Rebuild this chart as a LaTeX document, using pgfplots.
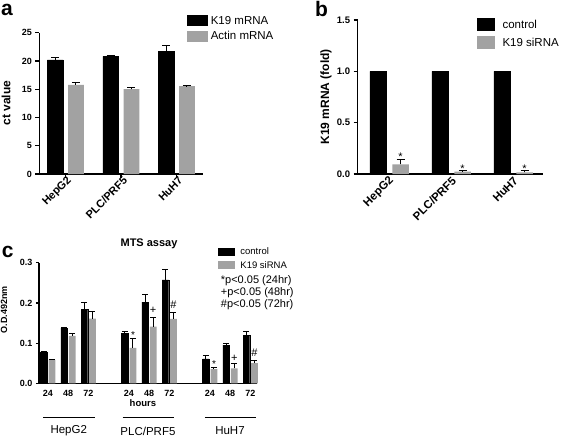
\documentclass[border=0pt]{standalone}
\usepackage{pgfplots}
\pgfplotsset{compat=1.18}
\usepackage{pgfplotstable}
\usepackage{fontspec}
\setmainfont{Liberation Sans}
\definecolor{bargray}{RGB}{162,162,162}
\newcommand{\fs}[1]{\fontsize{#1}{#1}\selectfont}

\pgfplotstableread{
x k19 k19e act acte
0 20.2 0.35 15.75 0.45
1 20.8 0.12 15.0 0.35
2 21.65 1.05 15.55 0.1
}\dataA

\pgfplotstableread{
x ctl sir sire
0 1.0 0.094 0.052
1 1.0 0.023 0.008
2 1.0 0.016 0.02
}\dataB

\pgfplotstableread{
x y
0.182 0.195
1.182 0.078
2.182 0.078
}\starB

\pgfplotstableread{
x ctl ctle sir sire
0 0.078 0.002 0.058 0.002
1 0.137 0.002 0.118 0.005
2 0.184 0.017 0.161 0.018
4 0.124 0.005 0.088 0.024
5 0.202 0.020 0.141 0.023
6 0.257 0.025 0.160 0.016
8 0.061 0.008 0.035 0.004
9 0.095 0.005 0.037 0.013
10 0.119 0.009 0.050 0.006
}\dataC

\pgfplotstableread{
x y
4.2 0.126
8.2 0.054
}\starC
\pgfplotstableread{
x y
5.2 0.181
9.2 0.062
}\plusC
\pgfplotstableread{
x y
6.2 0.195
10.2 0.076
}\hashC

\pgfplotsset{
  prism/.style={
    axis x line*=bottom, axis y line*=left,
    axis line style={line width=1.5pt},
    tick style={line width=1.2pt, black},
    tick align=outside,
    major tick length=4pt,
    /pgf/number format/assume math mode=true,
    ticklabel style={font=\bfseries\fs{9}},
    clip=false,
    anchor=south west,
    legend cell align=left,
  },
  errstyle/.style={
    error bars/y dir=plus, error bars/y explicit,
    error bars/error bar style={line width=1pt, black},
    error bars/error mark options={rotate=90, line width=1pt, mark size=#1, black}},
  blackbar/.style={ybar, bar shift=0pt, fill=black, draw=black, forget plot},
  graybar/.style={ybar, bar shift=0pt, fill=bargray, draw=none, forget plot},
}

\begin{document}
\begin{tikzpicture}
\useasboundingbox (0,0) rectangle (567pt,437pt);

% ---------------- panel a
\begin{axis}[prism,
  at={(39.5pt,263pt)}, x=55.5pt, y=5.652pt,
  xmin=-0.47, xmax=2.47, ymin=0, ymax=25,
  ytick={0,5,10,15,20,25},
  xtick={0,1,2}, xticklabels={HepG2,PLC/PRF5,HuH7},
  xticklabel style={rotate=45, anchor=east, font=\bfseries\fs{11}, inner sep=1pt, xshift=3.5pt, yshift=-3.5pt},
  ylabel={ct value},
  ylabel style={font=\bfseries\fs{12}, at={(axis description cs:-0.205,0.502)}, anchor=center},
  legend style={at={(axis description cs:0.904,1.125)}, anchor=north west,
    draw=none, fill=none, inner sep=0pt, row sep=5pt, column sep=3.2pt,
    font=\fs{11.5}, nodes={inner sep=0pt, text height=8.2pt, text depth=0pt}},
]
\addplot[blackbar, bar width=0.283, errstyle=4pt] table[x expr=\thisrow{x}-0.187, y=k19, y error=k19e] {\dataA};
\addplot[graybar, bar width=0.283, errstyle=4pt] table[x expr=\thisrow{x}+0.187, y=act, y error=acte] {\dataA};
\addlegendimage{legend image code/.code={\fill[black] (0pt,-5pt) rectangle (20pt,5pt);}}
\addlegendentry{K19 mRNA}
\addlegendimage{legend image code/.code={\fill[bargray] (0pt,-5pt) rectangle (20pt,5pt);}}
\addlegendentry{Actin mRNA}
\end{axis}

% ---------------- panel b
\begin{axis}[prism,
  at={(357.7pt,263pt)}, x=62pt, y=102.67pt,
  xmin=-0.51, xmax=2.48, ymin=0, ymax=1.5,
  ytick={0,0.5,1,1.5},
  yticklabel style={/pgf/number format/.cd, fixed, fixed zerofill, precision=1},
  ticklabel style={font=\bfseries\fs{9.5}},
  xtick={0,1,2}, xticklabels={HepG2,PLC/PRF5,HuH7},
  major x tick style={draw=none},
  xticklabel style={rotate=45, anchor=east, font=\bfseries\fs{11.5}, inner sep=1pt, xshift=2.5pt, yshift=-2.5pt},
  ylabel={K19 mRNA (fold)},
  ylabel style={font=\bfseries\fs{12}, at={(axis description cs:-0.171,0.502)}, anchor=center},
  legend style={at={(axis description cs:0.642,1.013)}, anchor=north west,
    draw=none, fill=none, inner sep=0pt, row sep=5.7pt, column sep=8.5pt,
    font=\fs{11.5}, nodes={inner sep=0pt, text height=8.2pt, text depth=0pt}},
]
\addplot[blackbar, bar width=0.266] table[x expr=\thisrow{x}-0.182, y=ctl] {\dataB};
\addplot[graybar, bar width=0.266, errstyle=4pt] table[x expr=\thisrow{x}+0.182, y=sir, y error=sire] {\dataB};
\addplot[only marks, mark=none, forget plot, nodes near coords={*},
  nodes near coords style={anchor=center, inner sep=0pt, yshift=-2.4pt, font=\fs{11}}]
  table[x=x, y=y] {\starB};
\addlegendimage{legend image code/.code={\fill[black] (0pt,-6pt) rectangle (16.7pt,6pt);}}
\addlegendentry{control}
\addlegendimage{legend image code/.code={\fill[bargray] (0pt,-6pt) rectangle (16.7pt,6pt);}}
\addlegendentry{K19 siRNA}
\end{axis}

% ---------------- panel c
\begin{axis}[prism,
  at={(39pt,53.7pt)}, x=20.25pt, y=402pt,
  xmin=-0.44, xmax=10.32, ymin=0, ymax=0.3,
  ytick={0,0.1,0.2,0.3},
  yticklabel style={/pgf/number format/.cd, fixed, fixed zerofill, precision=1},
  xtick={0,1,2,4,5,6,8,9,10}, xticklabels={24,48,72,24,48,72,24,48,72},
  major x tick style={draw=none},
  xticklabel style={font=\bfseries\fs{9}},
  major tick length=3pt,
  ylabel={O.D.492nm},
  ylabel style={font=\bfseries\fs{9}, at={(axis description cs:-0.161,0.608)}, anchor=center},
  xlabel={hours},
  xlabel style={font=\bfseries\fs{9.5}, at={(axis description cs:0.477,-0.165)}, anchor=center},
  title={MTS assay},
  title style={font=\bfseries\fs{11}, at={(axis description cs:0.505,1.155)}, anchor=center, yshift=-6pt},
  legend style={at={(axis description cs:0.8225,1.126)}, anchor=north west,
    draw=none, fill=none, inner sep=0pt, row sep=6pt, column sep=5.6pt,
    font=\fs{9.5}, nodes={inner sep=0pt, text height=6.8pt, text depth=0pt}},
]
\addplot[blackbar, bar width=0.33, errstyle=3pt] table[x expr=\thisrow{x}-0.198, y=ctl, y error=ctle] {\dataC};
\addplot[graybar, bar width=0.33, errstyle=3pt] table[x expr=\thisrow{x}+0.198, y=sir, y error=sire] {\dataC};
\addplot[only marks, mark=none, forget plot, nodes near coords={*},
  nodes near coords style={anchor=center, inner sep=0pt, yshift=-2.2pt, font=\fs{10}}]
  table[x=x, y=y] {\starC};
\addplot[only marks, mark=none, forget plot, nodes near coords={+},
  nodes near coords style={anchor=center, inner sep=0pt, font=\fs{11}}]
  table[x=x, y=y] {\plusC};
\addplot[only marks, mark=none, forget plot, nodes near coords={\#},
  nodes near coords style={anchor=center, inner sep=0pt, font=\fs{11}}]
  table[x=x, y=y] {\hashC};
\addlegendimage{legend image code/.code={\fill[black] (0pt,-3.5pt) rectangle (16pt,3.5pt);}}
\addlegendentry{control}
\addlegendimage{legend image code/.code={\fill[bargray] (0pt,-3.5pt) rectangle (16pt,3.5pt);}}
\addlegendentry{K19 siRNA}
% group annotations
\draw[line width=1.5pt] (axis cs:-0.23,-0.0846) -- (axis cs:2.32,-0.0846);
\draw[line width=1.5pt] (axis cs:3.69,-0.0846) -- (axis cs:6.22,-0.0846);
\draw[line width=1.5pt] (axis cs:7.75,-0.0846) -- (axis cs:10.27,-0.0846);
\node[font=\fs{11.5}, anchor=center] at (axis cs:1.03,-0.1187) {HepG2};
\node[font=\fs{11.5}, anchor=center] at (axis cs:4.94,-0.1187) {PLC/PRF5};
\node[font=\fs{11.5}, anchor=center] at (axis cs:8.99,-0.1187) {HuH7};
\end{axis}

% p-value notes
\node[anchor=base west, inner sep=0pt, font=\fs{11}] at (220.7pt,153.1pt) {*p<0.05 (24hr)};
\node[anchor=base west, inner sep=0pt, font=\fs{11}] at (220.7pt,141.4pt) {+p<0.05 (48hr)};
\node[anchor=base west, inner sep=0pt, font=\fs{11}] at (220.7pt,129.8pt) {\#p<0.05 (72hr)};

% panel letters
\node[anchor=base west, inner sep=0pt, font=\bfseries\fs{21}] at (1pt,421.5pt) {a};
\node[anchor=base west, inner sep=0pt, font=\bfseries\fs{21}] at (315pt,420.3pt) {b};
\node[anchor=base west, inner sep=0pt, font=\bfseries\fs{21}] at (1.7pt,179.7pt) {c};
\end{tikzpicture}
\end{document}
